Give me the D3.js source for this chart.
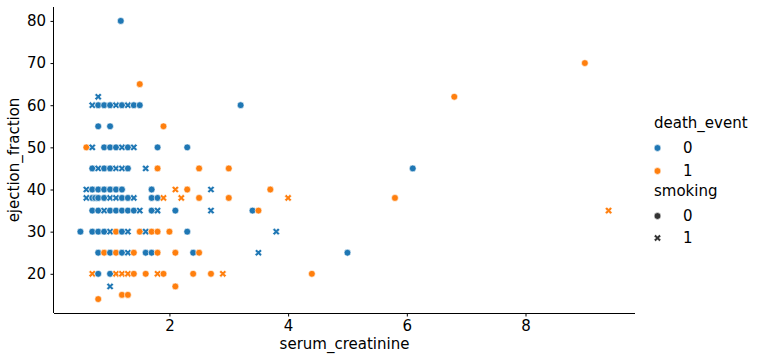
<!DOCTYPE html>
<html>
<head>
<meta charset="utf-8">
<script src="https://cdn.jsdelivr.net/npm/d3@7"></script>
<style>
  body { margin: 0; background: #fff; }
  svg text { font-family: "DejaVu Sans", sans-serif; fill: #000; }
</style>
</head>
<body>
<svg id="chart" width="761" height="362"></svg>
<script>
// serum_creatinine vs ejection_fraction
const serumCreatinine = [
  1.18, 9.0, 1.5, 0.8, 6.8,
  0.7, 0.8, 0.9, 1.0, 1.1, 1.2, 1.3, 1.4, 1.5, 3.2,
  0.8, 1.0, 1.9,
  0.6, 0.7, 0.9, 1.0, 1.1, 1.2, 1.3, 1.4, 1.8, 2.3,
  0.7, 0.8, 0.9, 1.0, 1.1, 1.2, 1.3, 1.6, 1.8, 2.5, 3.0, 6.1,
  0.6, 0.7, 0.8, 0.9, 1.0, 1.1, 1.2, 1.7, 2.1, 2.3, 2.7, 3.7,
  0.6, 0.7, 0.75, 0.8, 0.9, 1.0, 1.1, 1.2, 1.3, 1.4, 1.7, 1.8, 1.9, 2.2, 2.5, 3.0, 4.0, 5.8,
  0.7, 0.8, 0.9, 1.0, 1.1, 1.2, 1.3, 1.4, 1.5, 1.7, 1.8, 2.1, 2.7, 3.4, 3.5, 9.4,
  0.5, 0.7, 0.8, 0.9, 1.0, 1.1, 1.2, 1.3, 1.5, 1.6, 1.7, 1.8, 2.0, 2.3, 3.8,
  0.8, 0.9, 1.0, 1.1, 1.2, 1.3, 1.4, 1.6, 1.7, 1.8, 2.1, 2.4, 2.5, 3.5, 5.0,
  0.7, 0.8, 1.0, 1.1, 1.2, 1.3, 1.4, 1.6, 1.8, 1.9, 2.4, 2.7, 2.9, 4.4,
  1.0, 2.1,
  1.2, 1.3,
  0.8
];
const ejectionFraction = [
  80, 70, 65, 62, 62,
  60, 60, 60, 60, 60, 60, 60, 60, 60, 60,
  55, 55, 55,
  50, 50, 50, 50, 50, 50, 50, 50, 50, 50,
  45, 45, 45, 45, 45, 45, 45, 45, 45, 45, 45, 45,
  40, 40, 40, 40, 40, 40, 40, 40, 40, 40, 40, 40,
  38, 38, 38, 38, 38, 38, 38, 38, 38, 38, 38, 38, 38, 38, 38, 38, 38, 38,
  35, 35, 35, 35, 35, 35, 35, 35, 35, 35, 35, 35, 35, 35, 35, 35,
  30, 30, 30, 30, 30, 30, 30, 30, 30, 30, 30, 30, 30, 30, 30,
  25, 25, 25, 25, 25, 25, 25, 25, 25, 25, 25, 25, 25, 25, 25,
  20, 20, 20, 20, 20, 20, 20, 20, 20, 20, 20, 20, 20, 20,
  17, 17,
  15, 15,
  14
];
const deathEvent = [
  0, 1, 1, 0, 1,
  0, 0, 0, 0, 0, 0, 0, 0, 0, 0,
  0, 0, 1,
  1, 0, 0, 0, 0, 0, 0, 0, 0, 0,
  0, 0, 0, 0, 0, 0, 0, 0, 1, 1, 1, 0,
  0, 0, 0, 0, 0, 0, 0, 0, 1, 1, 0, 1,
  0, 0, 0, 0, 0, 0, 0, 0, 0, 0, 0, 0, 1, 1, 1, 1, 1, 1,
  0, 0, 0, 0, 0, 0, 0, 0, 0, 0, 0, 0, 0, 0, 1, 1,
  0, 0, 0, 0, 0, 1, 0, 0, 1, 0, 1, 1, 1, 0, 0,
  0, 1, 0, 1, 0, 0, 1, 0, 0, 1, 1, 0, 1, 0, 0,
  1, 0, 0, 1, 1, 1, 1, 1, 1, 1, 1, 1, 1, 1,
  0, 1,
  1, 1,
  1
];
const smoking = [
  0, 0, 0, 1, 0,
  1, 0, 0, 0, 1, 0, 1, 0, 0, 0,
  0, 0, 0,
  0, 1, 0, 0, 0, 1, 0, 1, 0, 0,
  0, 1, 0, 0, 1, 1, 0, 1, 0, 0, 0, 0,
  1, 0, 0, 0, 0, 0, 0, 0, 1, 0, 1, 0,
  1, 0, 0, 0, 0, 1, 1, 0, 0, 1, 0, 0, 1, 1, 0, 0, 1, 0,
  0, 0, 1, 0, 0, 0, 0, 0, 1, 0, 1, 0, 1, 0, 0, 1,
  0, 0, 0, 0, 1, 0, 0, 1, 0, 1, 0, 0, 0, 0, 1,
  0, 0, 0, 0, 0, 1, 0, 0, 0, 0, 0, 0, 0, 1, 0,
  1, 0, 0, 1, 1, 1, 0, 0, 1, 0, 0, 0, 1, 0,
  1, 0,
  0, 0,
  0
];
const xTicks = [2, 4, 6, 8];
const yTicks = [20, 30, 40, 50, 60, 70, 80];
const hueLevels = [0, 1];
const styleLevels = [0, 1];

const svg = d3.select('#chart');
const plot = { left: 54, right: 635, top: 7, bottom: 313 };
const palette = d3.scaleOrdinal().domain(hueLevels).range(['#1f77b4', '#ff7f0e']);

// matplotlib's default 5% margins around the data
const pad = (ext) => {
  const m = (ext[1] - ext[0]) * 0.05;
  return [ext[0] - m, ext[1] + m];
};
const x = d3.scaleLinear().domain(pad(d3.extent(serumCreatinine))).range([plot.left, plot.right]);
const y = d3.scaleLinear().domain(pad(d3.extent(ejectionFraction))).range([plot.bottom, plot.top]);

// filled "X" marker like matplotlib, spanning size px
const xMarker = (size) => {
  const pts = [[-1, -2], [0, -1], [1, -2], [2, -1], [1, 0], [2, 1], [1, 2], [0, 1], [-1, 2], [-2, 1], [-1, 0], [-2, -1]];
  return 'M' + pts.map(p => [p[0] * size / 4, p[1] * size / 4].join(',')).join('L') + 'Z';
};
const markerPath = (style, size) =>
  style === 1 ? xMarker(size) : d3.symbol(d3.symbolCircle, Math.PI * (size / 2) ** 2)();

const points = serumCreatinine.map((v, i) => ({
  sc: v, ef: ejectionFraction[i], death: deathEvent[i], smoke: smoking[i]
}));

svg.append('g')
  .selectAll('path')
  .data(points)
  .enter()
  .append('path')
  .attr('transform', d => `translate(${x(d.sc)},${y(d.ef)})`)
  .attr('d', d => markerPath(d.smoke, d.smoke === 1 ? 7.2 : 6.8))
  .attr('fill', d => palette(d.death))
  .attr('stroke', '#fff')
  .attr('stroke-width', 0.6);

// axes
const xAxis = svg.append('g')
  .attr('transform', `translate(0,${plot.bottom})`)
  .call(d3.axisBottom(x).tickValues(xTicks).tickSize(3.5).tickPadding(3.5).tickSizeOuter(0));
const yAxis = svg.append('g')
  .attr('transform', `translate(${plot.left},0)`)
  .call(d3.axisLeft(y).tickValues(yTicks).tickSize(3.5).tickPadding(4.5).tickSizeOuter(0));

[xAxis, yAxis].forEach(g => {
  g.select('.domain').attr('stroke', '#000').attr('stroke-width', 1)
    .attr('d', g === xAxis ? `M${plot.left},0.5H${plot.right}` : `M-0.5,${plot.top}V${plot.bottom}`);
  g.selectAll('.tick line').attr('stroke', '#000').attr('stroke-width', 1);
  g.selectAll('.tick text').style('font-size', '15px').attr('fill', '#000');
});

svg.append('text')
  .attr('x', (plot.left + plot.right) / 2)
  .attr('y', 349)
  .attr('text-anchor', 'middle')
  .style('font-size', '15px')
  .text('serum_creatinine');

svg.append('text')
  .attr('transform', `translate(19,${(plot.top + plot.bottom) / 2}) rotate(-90)`)
  .attr('text-anchor', 'middle')
  .style('font-size', '15px')
  .text('ejection_fraction');

// legend
const legend = svg.append('g');
const legendRows = [
  { label: 'death_event', y: 128, title: true },
  { label: '0', y: 153, my: 148, fill: palette(0), style: 0 },
  { label: '1', y: 176, my: 171, fill: palette(1), style: 0 },
  { label: 'smoking', y: 196, title: true },
  { label: '0', y: 221, my: 216, fill: '#333', style: 0 },
  { label: '1', y: 243, my: 238, fill: '#333', style: 1 }
];

legendRows.forEach(r => {
  legend.append('text')
    .attr('x', r.title ? 654 : 683)
    .attr('y', r.y)
    .style('font-size', '15px')
    .text(r.label);
  if (!r.title) {
    legend.append('path')
      .attr('transform', `translate(657.5,${r.my})`)
      .attr('d', markerPath(r.style, r.style === 1 ? 7.2 : 6.8))
      .attr('fill', r.fill)
      .attr('stroke', '#fff')
      .attr('stroke-width', 0.6);
  }
});
</script>
</body>
</html>
